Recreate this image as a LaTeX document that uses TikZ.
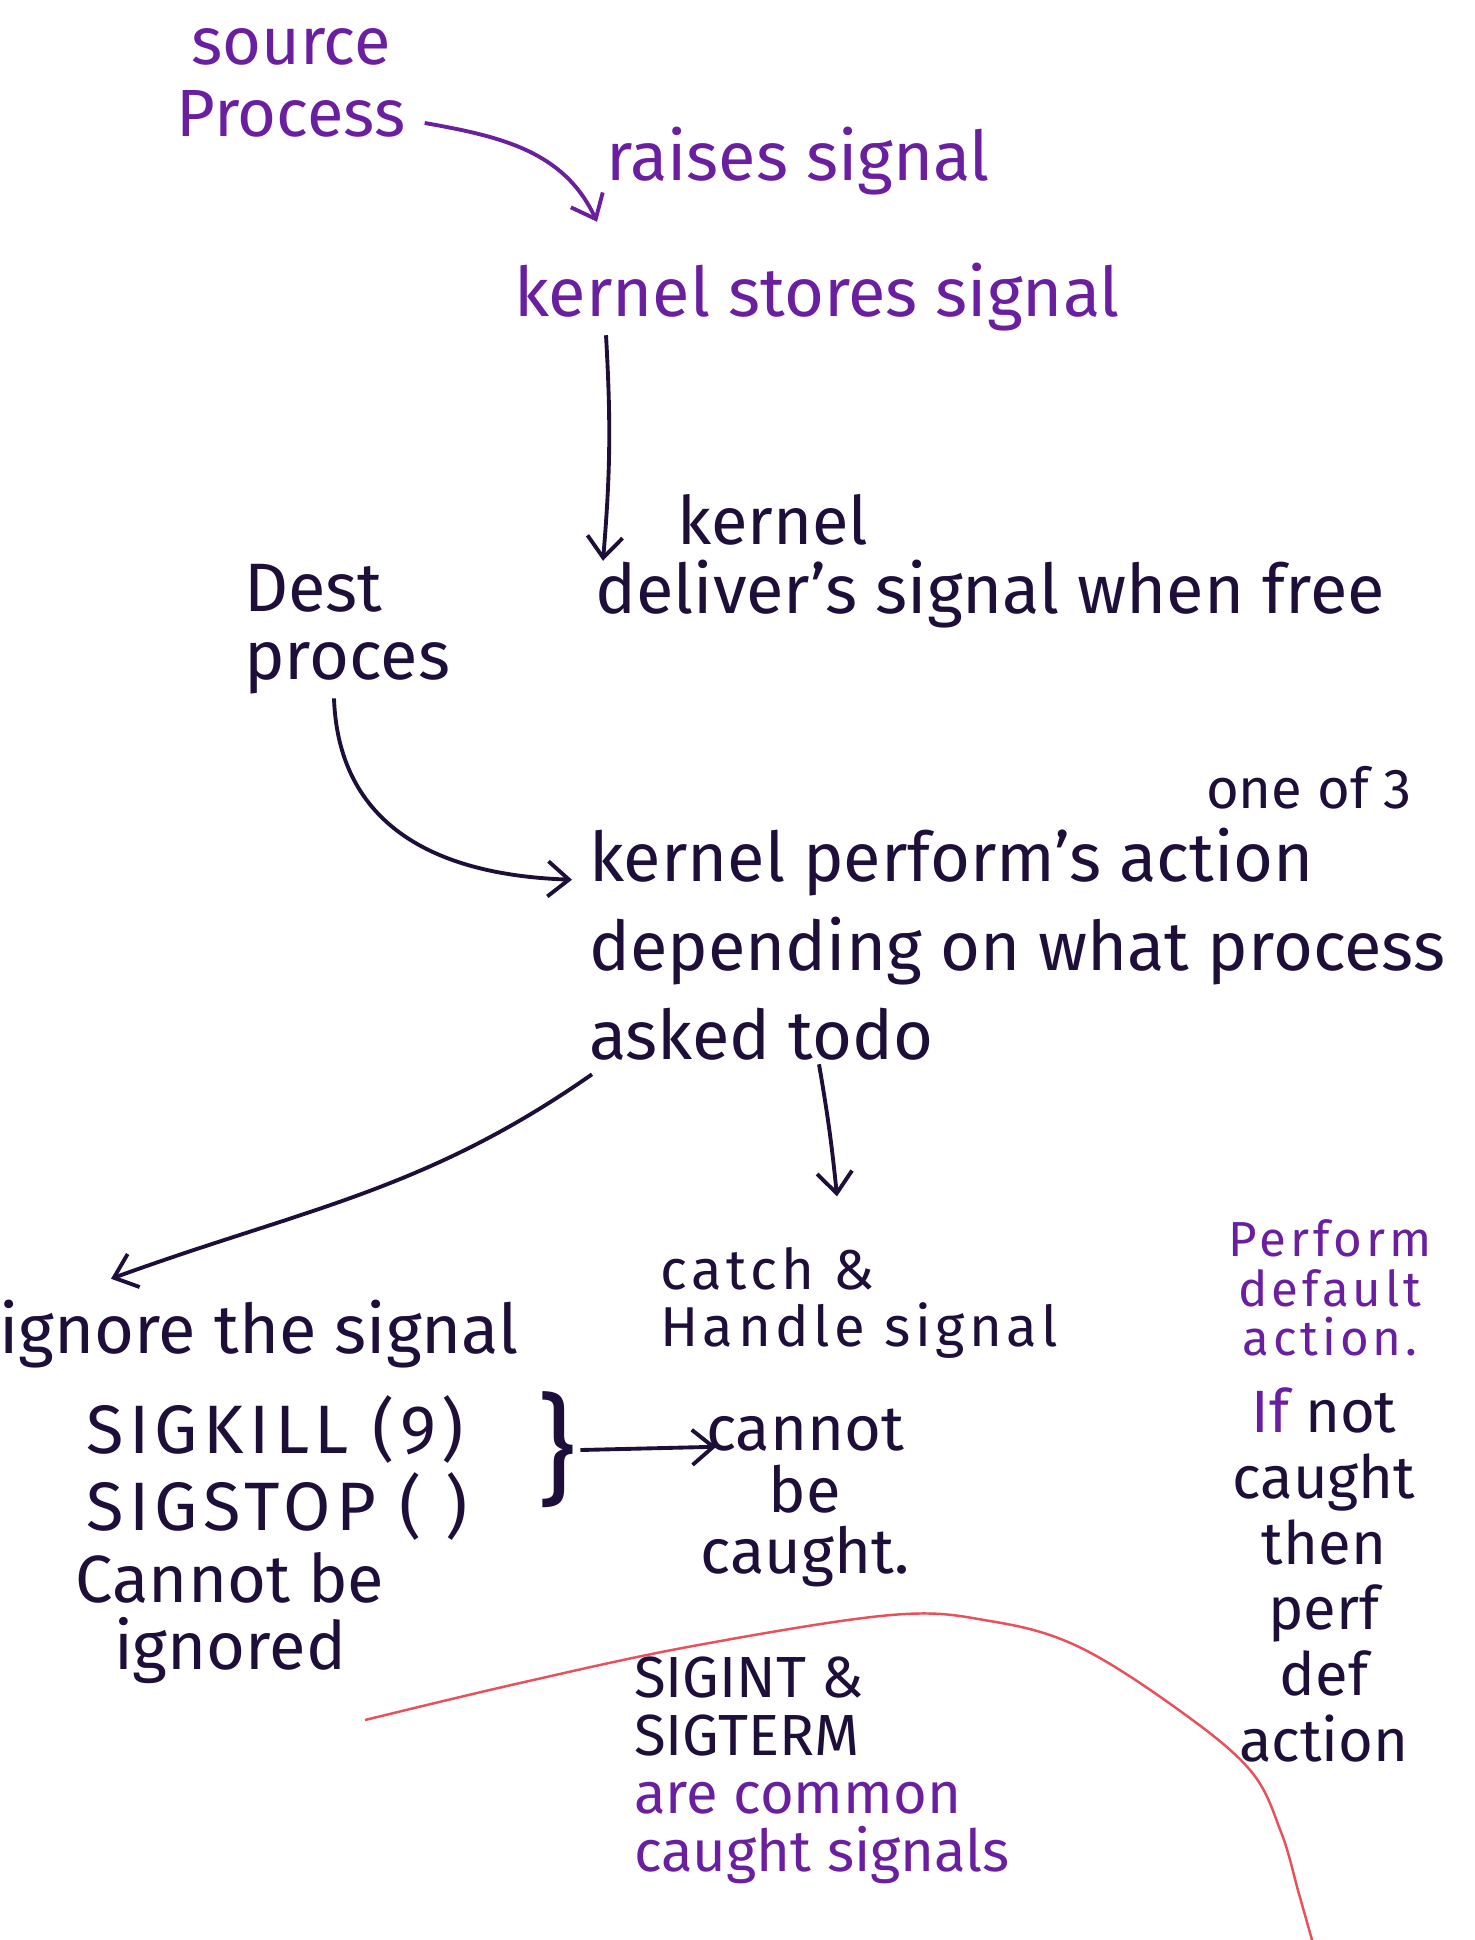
\documentclass[tikz,border=0pt]{standalone}
\usepackage{fontspec}
\usepackage{tikz}
\usetikzlibrary{arrows.meta,positioning,calc}
\setmainfont{Fira Sans}
\newfontfamily\wideface[LetterSpace=8]{Fira Sans}
\definecolor{sviolet}{HTML}{6A1FA0}
\definecolor{sink}{HTML}{1E0E3A}
\definecolor{sred}{HTML}{E8505B}

\begin{document}
\begin{tikzpicture}[
    note/.style={font=\fontsize{19.5}{23}\selectfont, inner sep=1pt, align=center, text=sink},
    vnote/.style={note, text=sviolet},
    pen/.style={-{Straight Barb[length=6pt, width=10pt]}, line width=1.1pt, sink}
]
    \useasboundingbox (0,0) rectangle (14.74,-19.40);

    % Signal path
    \node[vnote, font=\fontsize{19}{20.7}\selectfont] (source) at (2.91,-0.83) {source\\Process};
    \node[vnote] (raises) at (7.98,-1.61) {raises signal};
    \node[vnote] (stores) at (8.17,-2.97) {kernel stores signal};
    \node[note, font=\fontsize{19}{23}\selectfont] (kern) at (7.73,-5.20) {kernel};
    \node[note] (deliver) at (9.90,-5.94) {deliver's signal when free};
    \node[note, align=left, anchor=west, font=\fontsize{19.5}{19.5}\selectfont] (dest) at (2.40,-6.29) {Dest\\proces};

    % Kernel action
    \node[note, font=\fontsize{16}{18}\selectfont] (oneof) at (13.09,-7.88) {one of 3};
    \node[note, align=left, anchor=west, font=\fontsize{19.5}{25.3}\selectfont] (perform) at (5.85,-9.44) {kernel perform's action\\depending on what process\\asked todo};

    % Three choices
    \node[note, anchor=west] (ignore) at (-0.05,-13.34) {ignore the signal};
    \node[note, align=left, anchor=west, font=\wideface\fontsize{19.5}{21.9}\selectfont] (sigs) at (0.82,-14.68) {SIGKILL (9)\\SIGSTOP ( )};
    \node[note, font=\fontsize{19}{19.3}\selectfont] (noign) at (2.30,-16.18) {Cannot be\\ignored};
    \node[note, font=\fontsize{34}{34}\selectfont] (brace) at (5.57,-14.50) {\}};
    \node[note, align=left, anchor=west, font=\wideface\fontsize{16}{16.2}\selectfont] (catch) at (6.56,-13.03) {catch \&\\Handle signal};
    \node[note, font=\fontsize{18}{17.5}\selectfont] (cannot) at (8.05,-14.98) {cannot\\be\\caught.};
    \node[note, align=left, anchor=west, font=\fontsize{16.5}{16.5}\selectfont] (common) at (6.30,-17.70) {SIGINT \&\\SIGTERM\\\textcolor{sviolet}{are common}\\\textcolor{sviolet}{caught signals}};
    \node[vnote, font=\wideface\fontsize{14}{14}\selectfont] (perfdef) at (13.30,-12.88) {Perform\\default\\action.};
    \node[note, font=\fontsize{17}{18.7}\selectfont] (ifnot) at (13.24,-15.75) {\textcolor{sviolet}{If} not\\caught\\then\\perf\\def\\action};

    % Flows
    \draw[pen, sviolet] ($(source.east)+(0.15,-0.4)$) to[out=-10, in=115] ($(stores.north)+(-2.2,0.37)$);
    \draw[pen] ($(stores.south)+(-2.11,0)$) to[bend left=4] ($(deliver.north)+(-3.87,-0.05)$);
    \draw[pen] ($(dest.south west)+(0.94,0)$) .. controls +(-88:1.1) and +(178:1.6) .. ($(perform.north west)+(-0.13,-0.56)$);
    \draw[pen] ($(perform.south west)+(0.07,-0.1)$) to[out=-145, in=20] ($(ignore.north west)+(1.16,0.17)$);
    \draw[pen] ($(perform.south west)+(2.34,0)$) to[bend left=2] ($(catch.north west)+(1.81,0.47)$);
    \draw[pen] (brace.east) -- ($(cannot.north west)+(0.2,-0.42)$);

    % Red line
    \draw[sred, line width=0.7pt] plot[smooth, tension=0.6] coordinates {(3.65,-17.20) (5.20,-16.83) (6.93,-16.46) (8.91,-16.15) (9.90,-16.21) (10.77,-16.46) (11.76,-17.08) (12.50,-17.70) (12.81,-18.32) (12.99,-18.94) (13.12,-19.40)};
\end{tikzpicture}
\end{document}
